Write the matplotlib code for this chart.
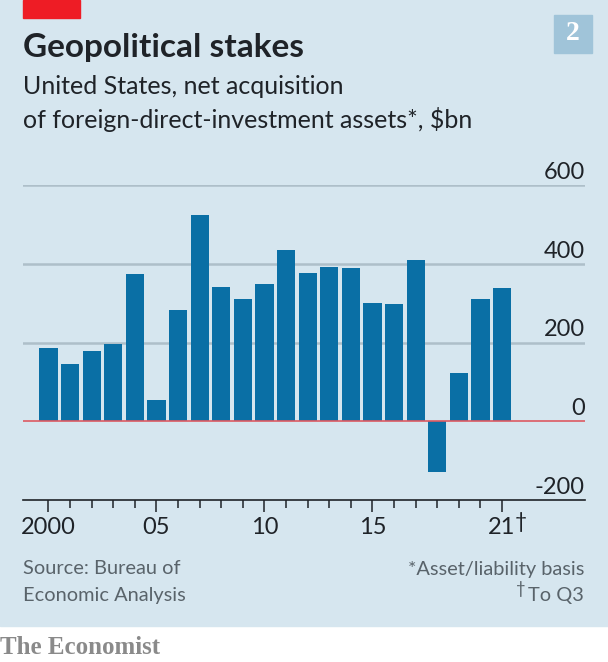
import matplotlib
matplotlib.use("Agg")
from matplotlib import pyplot as plt
from matplotlib.patches import Rectangle

years = list(range(2000, 2022))
values = [187, 146, 179, 195, 373, 53, 282, 525, 342, 311, 349, 435, 377, 393, 388, 301, 297, 409, -129, 122, 310, 338]
yticks = [600, 400, 200, 0, -200]
xticks = [2000, 2005, 2010, 2015, 2021]
xlabels = ["2000", "05", "10", "15", "21"]

W, H = 608, 662
BG = "#d6e6ef"
INK = "#1f2328"
GREY = "#59636a"
plt.rcParams["font.family"] = ["Lato", "DejaVu Sans"]

fig = plt.figure(figsize=(W / 100, H / 100), dpi=100, facecolor="white")

# blue panel, footer strip stays white
fig.patches.append(Rectangle((0, 36 / H), 1, 1 - 36 / H, transform=fig.transFigure, color=BG, zorder=-5))
fig.patches.append(Rectangle((23 / W, 1 - 18 / H), 57 / W, 18 / H, transform=fig.transFigure, color="#ee1c25"))
fig.patches.append(Rectangle((554 / W, 1 - 53 / H), 38 / W, 38 / H, transform=fig.transFigure, color="#a0c4d9"))

def px_text(x, y, s, **kw):
    return fig.text(x / W, 1 - y / H, s, **kw)

px_text(573, 34, "2", color="white", fontsize=20, fontweight="bold", ha="center", va="center", family="Liberation Serif")
px_text(23, 47, "Geopolitical stakes", fontsize=24, fontweight="bold", color=INK, va="center")
px_text(23, 86, "United States, net acquisition", fontsize=18, color=INK, va="center")
px_text(23, 119, "of foreign-direct-investment assets*, $bn", fontsize=18, color=INK, va="center")

# y: 600 at 185px, -200 at 500px; x: 21.6px per year, 2000 at 48.5px
ax = fig.add_axes([23 / W, 1 - 500 / H, (585 - 23) / W, (500 - 185) / H])
ax.patch.set_visible(False)
ax.set_ylim(-200, 600)
ax.set_xlim(1998.82, 2024.84)

ax.bar(years, values, width=0.84, color="#0a6fa5", zorder=3)
for v in yticks:
    if v == 0:
        ax.axhline(v, color="#dd5a62", lw=1.2, zorder=4)
    elif v == -200:
        continue
    else:
        ax.axhline(v, color="#aebfc9", lw=1.8, zorder=1)

for s in ["top", "left", "right"]:
    ax.spines[s].set_visible(False)
ax.spines["bottom"].set_color(INK)
ax.spines["bottom"].set_linewidth(1.2)

ax.set_xticks(years, minor=True)
ax.set_xticks(xticks)
ax.set_xticklabels(xlabels, fontsize=17, color=INK)
ax.tick_params(axis="x", which="major", length=8.5, width=1.1, color=INK, pad=4)
ax.tick_params(axis="x", which="minor", length=5.5, width=1.1, color=INK)
ax.set_yticks([])

for v in yticks:
    ax.annotate(str(v), (1, v), xycoords=("axes fraction", "data"), xytext=(0, 9), textcoords="offset points",
                ha="right", va="center", fontsize=17, color=INK)

px_text(515, 522, "\u2020", fontsize=15, color=INK, va="center")

px_text(23, 569, "Source: Bureau of", fontsize=14.4, color=GREY, va="center")
px_text(23, 596, "Economic Analysis", fontsize=14.4, color=GREY, va="center")
px_text(584, 569, "*Asset/liability basis", fontsize=14.4, color=GREY, va="center", ha="right")
px_text(584, 596, "To Q3", fontsize=14.4, color=GREY, va="center", ha="right")
px_text(526, 589, "\u2020", fontsize=12, color=GREY, va="center", ha="right")
px_text(0, 647, "The Economist", fontsize=18, color="#8a8a8a", va="center", family="Liberation Serif", fontweight="bold")

fig.savefig("out.png", dpi=100, facecolor="white")
